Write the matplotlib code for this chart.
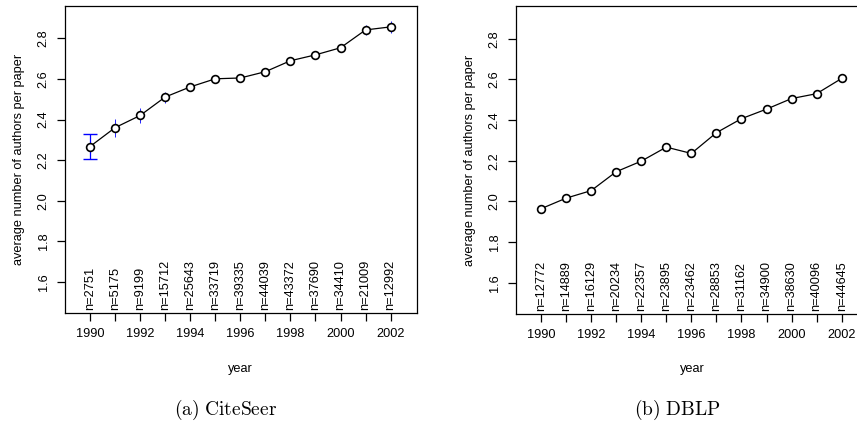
import matplotlib.pyplot as plt

plt.rcParams['font.family'] = ['Liberation Sans', 'DejaVu Sans']
plt.rcParams['mathtext.fontset'] = 'cm'

years = list(range(1990, 2003))

cite_mean = [2.267, 2.360, 2.420, 2.511, 2.561, 2.601, 2.605, 2.636, 2.690, 2.719, 2.754, 2.842, 2.857]
cite_lo = [2.205, 2.316, 2.382, 2.484, 2.540, 2.583, 2.588, 2.620, 2.675, 2.703, 2.738, 2.818, 2.826]
cite_hi = [2.328, 2.405, 2.456, 2.538, 2.582, 2.619, 2.622, 2.652, 2.705, 2.735, 2.770, 2.866, 2.888]
cite_n = [2751, 5175, 9199, 15712, 25643, 33719, 39335, 44039, 43372, 37690, 34410, 21009, 12992]

dblp_mean = [1.964, 2.016, 2.053, 2.146, 2.198, 2.267, 2.236, 2.338, 2.407, 2.454, 2.506, 2.530, 2.605]
dblp_lo = [1.950, 2.003, 2.040, 2.134, 2.187, 2.256, 2.225, 2.328, 2.397, 2.445, 2.497, 2.521, 2.597]
dblp_hi = [1.978, 2.029, 2.066, 2.158, 2.209, 2.278, 2.247, 2.348, 2.417, 2.463, 2.515, 2.539, 2.613]
dblp_n = [12772, 14889, 16129, 20234, 22357, 23895, 23462, 28853, 31162, 34900, 38630, 40096, 44645]

fs = 9.2
fig = plt.figure(figsize=(8.57, 4.25), dpi=100)
ax1 = fig.add_axes([0.0758, 0.2635, 0.4104, 0.7224])
ax2 = fig.add_axes([0.6021, 0.2612, 0.4104, 0.7240])


def draw(ax, mean, lo, hi, ns, big_caps):
    err = [[m - l for m, l in zip(mean, lo)], [h - m for m, h in zip(mean, hi)]]
    for i in range(len(years)):
        cap = 5 if i in big_caps else 0
        lw = 0.9 if i in big_caps else 0.6
        ax.errorbar(years[i], mean[i], yerr=[[err[0][i]], [err[1][i]]], fmt='none',
                    ecolor='blue', elinewidth=lw, capsize=cap, zorder=1)
    ax.plot(years, mean, color='black', linewidth=0.9, marker='o', markersize=5.6,
            markerfacecolor='white', markeredgecolor='black', markeredgewidth=1.2, zorder=2)
    ax.set_xlim(1989.0, 2003.04)
    ax.set_ylim(1.446, 2.96)
    for y, n in zip(years, ns):
        ax.text(y, 1.461, f"n={n}", rotation=90, ha='center', va='bottom', fontsize=fs)
    ax.set_xticks(years)
    ax.set_xticklabels([str(y) if y % 2 == 0 else '' for y in years], fontsize=fs)
    ax.set_yticks([1.6, 1.8, 2.0, 2.2, 2.4, 2.6, 2.8])
    ax.set_yticklabels(['1.6', '1.8', '2.0', '2.2', '2.4', '2.6', '2.8'], fontsize=fs,
                       rotation=90, va='center')
    ax.tick_params(direction='out', length=6, width=0.9, pad=5)
    ax.set_xlabel('year', fontsize=fs, labelpad=16)
    ax.set_ylabel('average number of authors per paper', fontsize=fs, labelpad=9)
    for s in ax.spines.values():
        s.set_linewidth(0.9)


draw(ax1, cite_mean, cite_lo, cite_hi, cite_n, [0])
draw(ax2, dblp_mean, dblp_lo, dblp_hi, dblp_n, [])

fig.text(226 / 857, 1 - 410 / 425, r'$\mathrm{(a)\ CiteSeer}$', ha='center', va='center', fontsize=14)
fig.text(677 / 857, 1 - 410 / 425, r'$\mathrm{(b)\ DBLP}$', ha='center', va='center', fontsize=14)

fig.savefig('out.png', dpi=100)
